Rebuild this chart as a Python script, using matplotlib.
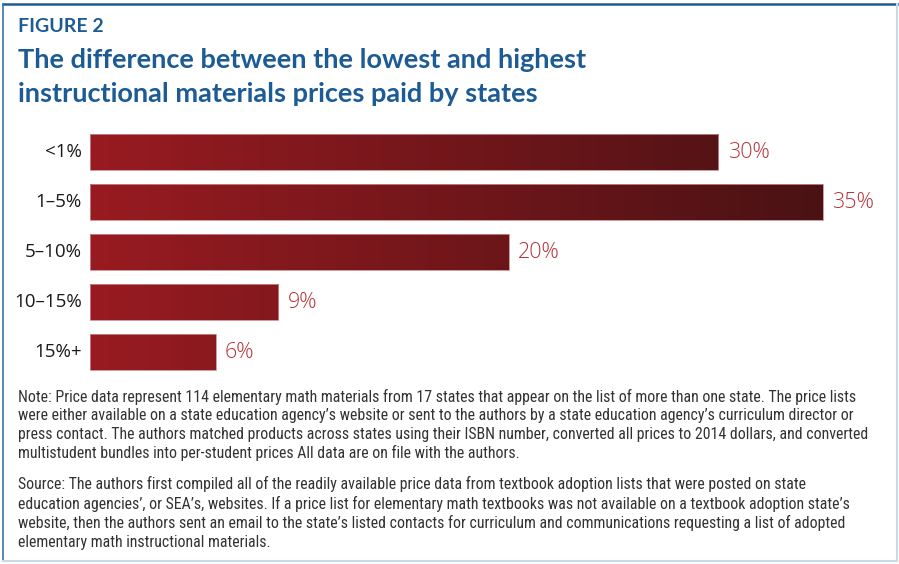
import numpy as np
import matplotlib.pyplot as plt
from matplotlib.colors import LinearSegmentedColormap
from matplotlib.lines import Line2D

# price gap between lowest and highest price, share of materials
categories = ["<1%", "1\u20135%", "5\u201310%", "10\u201315%", "15%+"]
shares = [30, 35, 20, 9, 6]
value_labels = ["30%", "35%", "20%", "9%", "6%"]

blue = "#1C5B94"
red_text = "#B3343B"
bar_cmap = LinearSegmentedColormap.from_list("bars", ["#981B21", "#4A1214"])

W, H = 899, 564
fig = plt.figure(figsize=(W / 100, H / 100), dpi=100)

# frame around the figure
fig.add_artist(Line2D([3 / W, 897 / W], [1 - 4 / H, 1 - 4 / H], color=blue, lw=1.8))
fig.add_artist(Line2D([3 / W, 3 / W], [1 - 4 / H, 1 - 561 / H], color="#3C74A8", lw=1.2))
fig.add_artist(Line2D([897 / W, 897 / W], [1 - 4 / H, 1 - 561 / H], color="#C9DAE8", lw=1.5))
fig.add_artist(Line2D([3 / W, 897 / W], [1 - 561 / H, 1 - 561 / H], color="#C9DAE8", lw=1.5))

title_font = ["Lato", "DejaVu Sans"]
fig.text(18 / W, 1 - 26 / H, "FIGURE 2", color=blue, fontsize=14, fontweight="bold",
         family=title_font, va="center", ha="left")
fig.text(18 / W, 1 - 60 / H, "The difference between the lowest and highest", color=blue,
         fontsize=19.5, fontweight="bold", family=title_font, va="center", ha="left")
fig.text(18 / W, 1 - 94 / H, "instructional materials prices paid by states", color=blue,
         fontsize=19.5, fontweight="bold", family=title_font, va="center", ha="left")

# axes: x=0 sits at pixel 90, 35% reaches pixel 823
px_per_unit = (823 - 90) / 35
ax = fig.add_axes([90 / W, 1 - 377 / H, (W - 90) / W, 250 / H])
xmax = (W - 90) / px_per_unit
ypos = np.arange(len(categories))

bars = ax.barh(ypos, shares, height=0.72, color="none", edgecolor="#C98A8C", lw=0.6, zorder=3)

# left-to-right gradient, clipped to each bar
vmax = max(shares)
grad = np.linspace(0, 1, 512).reshape(1, -1)
for b in bars:
    im = ax.imshow(grad, cmap=bar_cmap, aspect="auto", extent=(0, vmax, 4.5, -0.5),
                   interpolation="bilinear", zorder=2)
    im.set_clip_path(b)

for i, (v, lab) in enumerate(zip(shares, value_labels)):
    ax.text(v + 0.45, i, lab, color=red_text, fontsize=15.5, fontweight="light",
            family=["Open Sans", "DejaVu Sans"], va="center", ha="left")
    ax.text(-0.4, i, categories[i], color="#1A1A1A", fontsize=13.5,
            family=["Open Sans", "DejaVu Sans"], va="center", ha="right")
ax.set_xlim(0, xmax)
ax.set_ylim(4.5, -0.5)
ax.axis("off")

note = ("Note: Price data represent 114 elementary math materials from 17 states that appear on the list of more than one state. The price lists\n"
        "were either available on a state education agency\u2019s website or sent to the authors by a state education agency\u2019s curriculum director or\n"
        "press contact. The authors matched products across states using their ISBN number, converted all prices to 2014 dollars, and converted\n"
        "multistudent bundles into per-student prices All data are on file with the authors.")
source = ("Source: The authors first compiled all of the readily available price data from textbook adoption lists that were posted on state\n"
          "education agencies\u2019, or SEA\u2019s, websites. If a price list for elementary math textbooks was not available on a textbook adoption state\u2019s\n"
          "website, then the authors sent an email to the state\u2019s listed contacts for curriculum and communications requesting a list of adopted\n"
          "elementary math instructional materials.")
foot_font = ["Liberation Sans Narrow", "Roboto Condensed", "Liberation Sans"]
fig.text(18 / W, 1 - 389 / H, note, color="#333333", fontsize=11.4, family=foot_font,
         va="top", ha="left", linespacing=1.28)
fig.text(18 / W, 1 - 476 / H, source, color="#333333", fontsize=11.4, family=foot_font,
         va="top", ha="left", linespacing=1.28)

fig.savefig("out.png", dpi=100)
